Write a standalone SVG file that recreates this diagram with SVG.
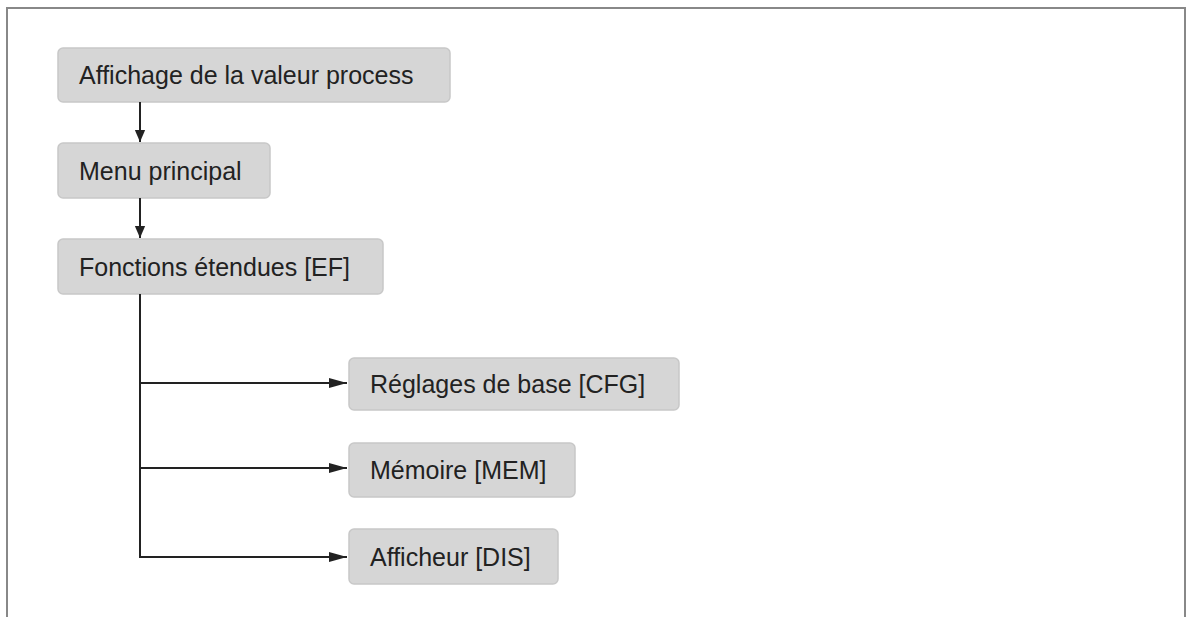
<svg xmlns="http://www.w3.org/2000/svg" width="1193" height="617" viewBox="0 0 1193 617">
<style>
.box{fill:#d6d6d6;stroke:#c8c8c8;stroke-width:1.5}
.t{font-family:"Liberation Sans",Arial,sans-serif;font-size:25px;fill:#222}
.c{stroke:#222;stroke-width:2;fill:none}
</style>
<defs><marker id="a" markerWidth="12" markerHeight="12" refX="14" refY="6" orient="auto" markerUnits="userSpaceOnUse" viewBox="0 0 14 12"><path d="M0,0L14,6L0,12z" fill="#222"/></marker>
<marker id="b" markerWidth="18" markerHeight="10" refX="18" refY="5" orient="auto" markerUnits="userSpaceOnUse"><path d="M0,0L18,5L0,10z" fill="#222"/></marker></defs>
<rect width="1193" height="617" fill="#fff"/>
<path d="M7,617V8H1185V617" fill="none" stroke="#888" stroke-width="2"/>
<g id="n1"><rect class="box" x="58" y="48" width="392" height="54" rx="5"/><text class="t" x="79" y="84">Affichage de la valeur process</text></g>
<g id="n2"><rect class="box" x="58" y="143" width="212" height="55" rx="5"/><text class="t" x="79" y="180">Menu principal</text></g>
<g id="n3"><rect class="box" x="58" y="239" width="325" height="55" rx="5"/><text class="t" x="79" y="276">Fonctions étendues [EF]</text></g>
<g id="n4"><rect class="box" x="349" y="358" width="330" height="52" rx="5"/><text class="t" x="370" y="393">Réglages de base [CFG]</text></g>
<g id="n5"><rect class="box" x="349" y="443" width="226" height="54" rx="5"/><text class="t" x="370" y="479">Mémoire [MEM]</text></g>
<g id="n6"><rect class="box" x="349" y="529" width="209" height="55" rx="5"/><text class="t" x="370" y="566">Afficheur [DIS]</text></g>
<g id="connectors">
<path class="c" d="M140,102V142" marker-end="url(#a)"/>
<path class="c" d="M140,198V238" marker-end="url(#a)"/>
<path class="c" d="M140,294V557H347" marker-end="url(#b)"/>
<path class="c" d="M140,383H347" marker-end="url(#b)"/>
<path class="c" d="M140,468H347" marker-end="url(#b)"/>
</g>
</svg>
